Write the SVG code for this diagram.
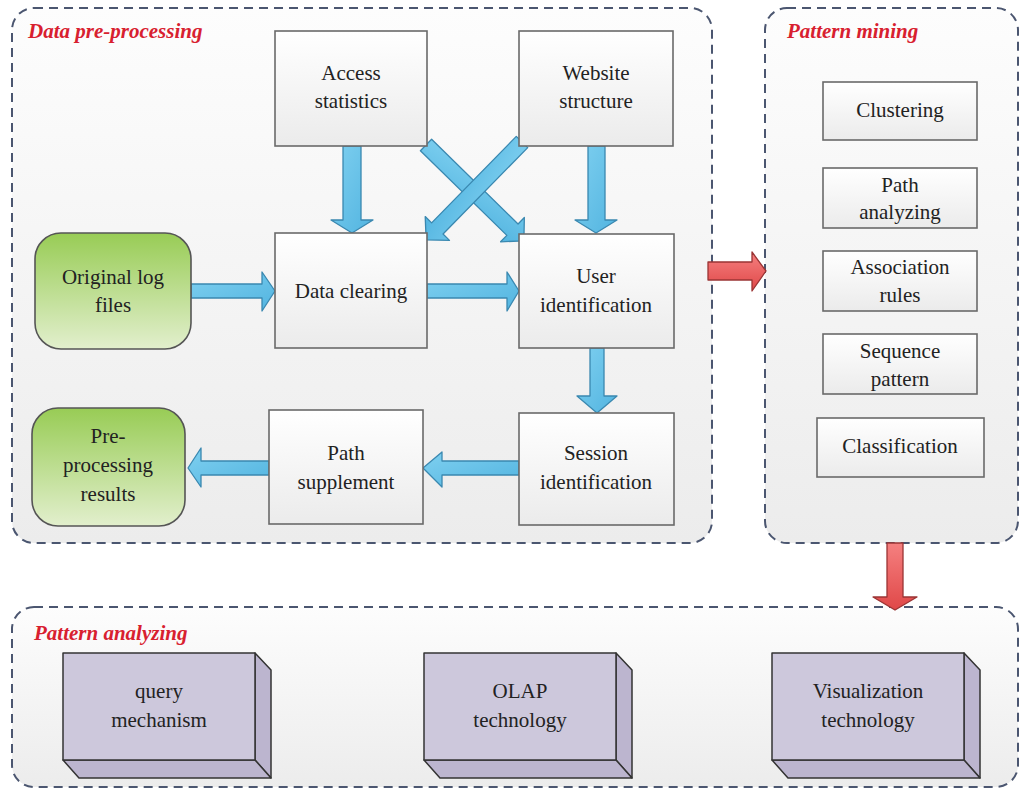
<svg xmlns="http://www.w3.org/2000/svg" width="1021" height="791" viewBox="0 0 1021 791">
  <defs>
    <linearGradient id="panelFill" x1="0" y1="0" x2="0" y2="1">
      <stop offset="0" stop-color="#fdfdfd"/>
      <stop offset="1" stop-color="#ececec"/>
    </linearGradient>
    <linearGradient id="boxFill" x1="0" y1="0" x2="0" y2="1">
      <stop offset="0" stop-color="#ffffff"/>
      <stop offset="1" stop-color="#ebebeb"/>
    </linearGradient>
    <linearGradient id="greenFill" x1="0" y1="0" x2="0" y2="1">
      <stop offset="0" stop-color="#98cc55"/>
      <stop offset="1" stop-color="#e2efcd"/>
    </linearGradient>
    <linearGradient id="blueFill" x1="0" y1="0" x2="1" y2="1">
      <stop offset="0" stop-color="#7fd0f0"/>
      <stop offset="1" stop-color="#52b4e0"/>
    </linearGradient>
    <linearGradient id="redFill" x1="0" y1="0" x2="0" y2="1">
      <stop offset="0" stop-color="#f58080"/>
      <stop offset="1" stop-color="#e04848"/>
    </linearGradient>
    <!-- shared shapes -->
    <polygon id="diagArrow" points="0,-8 121,-8 121,-17 137,0 121,17 121,8 0,8"/>
    <polygon id="blockSide" points="192,0 208,17 208,125 192,107"/>
    <polygon id="blockBottom" points="0,107 192,107 208,125 16,125"/>
  </defs>

  <rect width="1021" height="791" fill="#ffffff"/>

  <!-- stage panels -->
  <g id="panels" fill="url(#panelFill)" stroke="#4b5670" stroke-width="2" stroke-dasharray="9 6">
    <rect id="panel-preprocessing" x="12" y="8" width="700" height="535" rx="22"/>
    <rect id="panel-mining" x="765" y="8" width="253" height="535" rx="22"/>
    <rect id="panel-analyzing" x="12" y="607" width="1006" height="180" rx="22"/>
  </g>

  <!-- stage titles -->
  <g id="stage-titles">
    <text x="28" y="38" font-family="Liberation Serif" font-weight="bold" font-style="italic" font-size="21" fill="#d8202f">Data pre-processing</text>
    <text x="787" y="38" font-family="Liberation Serif" font-weight="bold" font-style="italic" font-size="21" fill="#d8202f">Pattern mining</text>
    <text x="34" y="640" font-family="Liberation Serif" font-weight="bold" font-style="italic" font-size="21" fill="#d8202f">Pattern analyzing</text>
  </g>

  <!-- connectors -->
  <g id="connectors" stroke-width="1.3" stroke-linejoin="round">
    <g fill="url(#blueFill)" stroke="#3a88b0">
      <!-- Access statistics -> Data clearing -->
      <polygon points="343,146 361,146 361,220 373,220 352,233 331,220 343,220"/>
      <!-- Website structure -> User identification -->
      <polygon points="588,146 605,146 605,220 617,220 596,233 575,220 588,220"/>
      <!-- Access statistics -> User identification (diagonal) -->
      <use href="#diagArrow" transform="translate(426,145) rotate(44.4)"/>
      <!-- Website structure -> Data clearing (diagonal) -->
      <use href="#diagArrow" transform="translate(522,142) rotate(134.4)"/>
      <!-- Original log files -> Data clearing -->
      <polygon points="191,284 262,284 262,272 275,291 262,311 262,298 191,298"/>
      <!-- Data clearing -> User identification -->
      <polygon points="427,284 507,284 507,272 519,291 507,311 507,298 427,298"/>
      <!-- User identification -> Session identification -->
      <polygon points="590,348 604,348 604,396 617,396 597,413 577,396 590,396"/>
      <!-- Session identification -> Path supplement -->
      <polygon points="519,461 442,461 442,452 423,468 442,487 442,475 519,475"/>
      <!-- Path supplement -> Pre-processing results -->
      <polygon points="269,461 201,461 201,448 188,468 201,487 201,475 269,475"/>
    </g>
    <g fill="url(#redFill)" stroke="#9a3434">
      <!-- Data pre-processing -> Pattern mining -->
      <polygon points="708,262 752,262 752,252 766,271 752,291 752,280 708,280"/>
      <!-- Pattern mining -> Pattern analyzing -->
      <polygon points="887,543 903,543 903,597 917,597 895,610 873,597 887,597"/>
    </g>
  </g>

  <!-- pre-processing nodes -->
  <g id="node-access-statistics">
    <rect x="275" y="31" width="152" height="115" fill="url(#boxFill)" stroke="#6a6a6a" stroke-width="1.6"/>
    <text x="351" y="80" font-family="Liberation Serif" font-size="21" fill="#222" text-anchor="middle">Access</text>
    <text x="351" y="108" font-family="Liberation Serif" font-size="21" fill="#222" text-anchor="middle">statistics</text>
  </g>
  <g id="node-website-structure">
    <rect x="519" y="31" width="154" height="115" fill="url(#boxFill)" stroke="#6a6a6a" stroke-width="1.6"/>
    <text x="596" y="80" font-family="Liberation Serif" font-size="21" fill="#222" text-anchor="middle">Website</text>
    <text x="596" y="108" font-family="Liberation Serif" font-size="21" fill="#222" text-anchor="middle">structure</text>
  </g>
  <g id="node-original-log">
    <rect x="35" y="233" width="156" height="116" rx="26" fill="url(#greenFill)" stroke="#555" stroke-width="1.6"/>
    <text x="113" y="284" font-family="Liberation Serif" font-size="21" fill="#222" text-anchor="middle">Original log</text>
    <text x="113" y="312" font-family="Liberation Serif" font-size="21" fill="#222" text-anchor="middle">files</text>
  </g>
  <g id="node-data-clearing">
    <rect x="275" y="233" width="152" height="115" fill="url(#boxFill)" stroke="#6a6a6a" stroke-width="1.6"/>
    <text x="351" y="298" font-family="Liberation Serif" font-size="21" fill="#222" text-anchor="middle">Data clearing</text>
  </g>
  <g id="node-user-identification">
    <rect x="519" y="234" width="155" height="114" fill="url(#boxFill)" stroke="#6a6a6a" stroke-width="1.6"/>
    <text x="596" y="283" font-family="Liberation Serif" font-size="21" fill="#222" text-anchor="middle">User</text>
    <text x="596" y="312" font-family="Liberation Serif" font-size="21" fill="#222" text-anchor="middle">identification</text>
  </g>
  <g id="node-preprocessing-results">
    <rect x="32" y="408" width="153" height="118" rx="26" fill="url(#greenFill)" stroke="#555" stroke-width="1.6"/>
    <text x="108" y="443" font-family="Liberation Serif" font-size="21" fill="#222" text-anchor="middle">Pre-</text>
    <text x="108" y="472" font-family="Liberation Serif" font-size="21" fill="#222" text-anchor="middle">processing</text>
    <text x="108" y="501" font-family="Liberation Serif" font-size="21" fill="#222" text-anchor="middle">results</text>
  </g>
  <g id="node-path-supplement">
    <rect x="269" y="410" width="154" height="114" fill="url(#boxFill)" stroke="#6a6a6a" stroke-width="1.6"/>
    <text x="346" y="460" font-family="Liberation Serif" font-size="21" fill="#222" text-anchor="middle">Path</text>
    <text x="346" y="489" font-family="Liberation Serif" font-size="21" fill="#222" text-anchor="middle">supplement</text>
  </g>
  <g id="node-session-identification">
    <rect x="519" y="413" width="155" height="112" fill="url(#boxFill)" stroke="#6a6a6a" stroke-width="1.6"/>
    <text x="596" y="460" font-family="Liberation Serif" font-size="21" fill="#222" text-anchor="middle">Session</text>
    <text x="596" y="489" font-family="Liberation Serif" font-size="21" fill="#222" text-anchor="middle">identification</text>
  </g>

  <!-- mining nodes -->
  <g id="node-clustering">
    <rect x="823" y="82" width="154" height="58" fill="url(#boxFill)" stroke="#6a6a6a" stroke-width="1.6"/>
    <text x="900" y="117" font-family="Liberation Serif" font-size="21" fill="#222" text-anchor="middle">Clustering</text>
  </g>
  <g id="node-path-analyzing">
    <rect x="823" y="168" width="154" height="60" fill="url(#boxFill)" stroke="#6a6a6a" stroke-width="1.6"/>
    <text x="900" y="192" font-family="Liberation Serif" font-size="21" fill="#222" text-anchor="middle">Path</text>
    <text x="900" y="219" font-family="Liberation Serif" font-size="21" fill="#222" text-anchor="middle">analyzing</text>
  </g>
  <g id="node-association-rules">
    <rect x="823" y="251" width="154" height="60" fill="url(#boxFill)" stroke="#6a6a6a" stroke-width="1.6"/>
    <text x="900" y="274" font-family="Liberation Serif" font-size="21" fill="#222" text-anchor="middle">Association</text>
    <text x="900" y="302" font-family="Liberation Serif" font-size="21" fill="#222" text-anchor="middle">rules</text>
  </g>
  <g id="node-sequence-pattern">
    <rect x="823" y="334" width="154" height="60" fill="url(#boxFill)" stroke="#6a6a6a" stroke-width="1.6"/>
    <text x="900" y="358" font-family="Liberation Serif" font-size="21" fill="#222" text-anchor="middle">Sequence</text>
    <text x="900" y="386" font-family="Liberation Serif" font-size="21" fill="#222" text-anchor="middle">pattern</text>
  </g>
  <g id="node-classification">
    <rect x="817" y="418" width="167" height="59" fill="url(#boxFill)" stroke="#6a6a6a" stroke-width="1.6"/>
    <text x="900" y="453" font-family="Liberation Serif" font-size="21" fill="#222" text-anchor="middle">Classification</text>
  </g>

  <!-- analyzing nodes (extruded blocks) -->
  <g id="node-query-mechanism">
    <g transform="translate(63,653)" fill="#bcb5cf" stroke="#333" stroke-width="1.5" stroke-linejoin="round">
      <use href="#blockSide"/>
      <use href="#blockBottom"/>
      <rect width="192" height="107" fill="#cdc8dc"/>
    </g>
    <text x="159" y="698" font-family="Liberation Serif" font-size="21" fill="#222" text-anchor="middle">query</text>
    <text x="159" y="727" font-family="Liberation Serif" font-size="21" fill="#222" text-anchor="middle">mechanism</text>
  </g>
  <g id="node-olap-technology">
    <g transform="translate(424,653)" fill="#bcb5cf" stroke="#333" stroke-width="1.5" stroke-linejoin="round">
      <use href="#blockSide"/>
      <use href="#blockBottom"/>
      <rect width="192" height="107" fill="#cdc8dc"/>
    </g>
    <text x="520" y="698" font-family="Liberation Serif" font-size="21" fill="#222" text-anchor="middle">OLAP</text>
    <text x="520" y="727" font-family="Liberation Serif" font-size="21" fill="#222" text-anchor="middle">technology</text>
  </g>
  <g id="node-visualization-technology">
    <g transform="translate(772,653)" fill="#bcb5cf" stroke="#333" stroke-width="1.5" stroke-linejoin="round">
      <use href="#blockSide"/>
      <use href="#blockBottom"/>
      <rect width="192" height="107" fill="#cdc8dc"/>
    </g>
    <text x="868" y="698" font-family="Liberation Serif" font-size="21" fill="#222" text-anchor="middle">Visualization</text>
    <text x="868" y="727" font-family="Liberation Serif" font-size="21" fill="#222" text-anchor="middle">technology</text>
  </g>
</svg>
